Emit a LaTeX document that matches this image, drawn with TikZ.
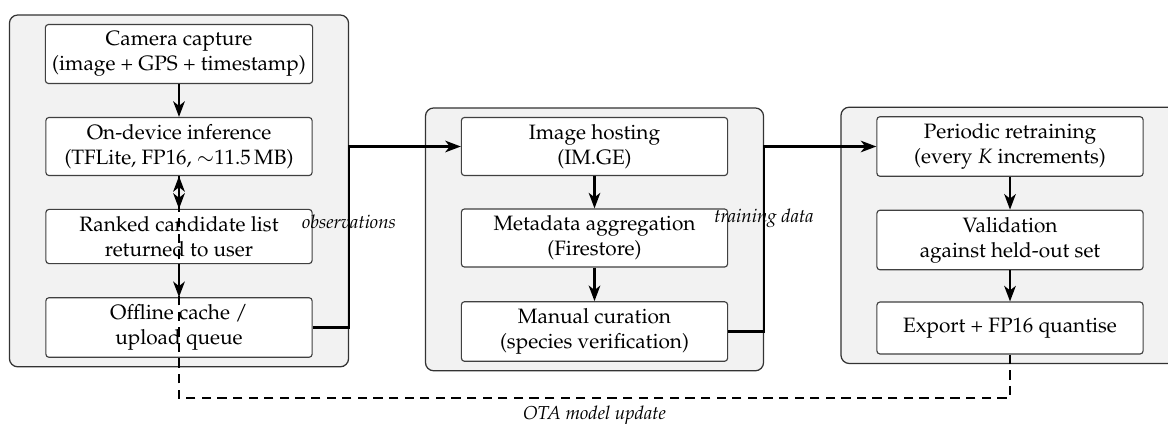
\documentclass[tikz,border=0pt]{standalone}
\usepackage[T1]{fontenc}
\usepackage{mathpazo}
\usetikzlibrary{arrows.meta,fit,backgrounds,positioning}

\tikzset{
  proc/.style={draw=black!75, line width=0.55pt, fill=white, rounded corners=1.5pt,
    minimum width=128pt, minimum height=25pt, align=center, inner sep=3.3pt},
  grp/.style={draw=black!80, line width=0.6pt, fill=black!5, rounded corners=4pt,
    inner xsep=17pt, inner ysep=4.3pt},
  flow/.style={line width=1pt, -{Stealth[length=7.5pt,width=5.6pt,inset=2.2pt]}},
  ota/.style={flow, dash pattern=on 4.5pt off 3pt},
  lbl/.style={font=\small\itshape, inner sep=1pt},
}

\begin{document}
\begin{tikzpicture}[x=0.4808pt, y=-0.4808pt]
  \useasboundingbox (0,0) rectangle (1168,423);

  % on-device pipeline
  \node[proc] (camera)  at (179,54)    {Camera capture\\(image + GPS + timestamp)};
  \node[proc] (infer)   at (179,146.5) {On-device inference\\(TFLite, FP16, $\sim$11.5\,MB)};
  \node[proc] (ranked)  at (179,236.5) {Ranked candidate list\\returned to user};
  \node[proc] (offline) at (179,327.5) {Offline cache /\\upload queue};

  % cloud side
  \node[proc] (hosting)  at (594.5,146.5) {Image hosting\\(IM.GE)};
  \node[proc] (metadata) at (594.5,238)   {Metadata aggregation\\(Firestore)};
  \node[proc] (curation) at (594.5,331.5) {Manual curation\\(species verification)};

  % retraining loop
  \node[proc] (retrain)  at (1010,146.5) {Periodic retraining\\(every $K$ increments)};
  \node[proc] (validate) at (1010,240)   {Validation\\against held-out set};
  \node[proc] (export)   at (1010,328)   {Export + FP16 quantise};

  \begin{scope}[on background layer]
    \node[grp, fit=(camera)(infer)(ranked)(offline)] (devgrp) {};
    \node[grp, fit=(hosting)(metadata)(curation)] (cloudgrp) {};
    \node[grp, fit=(retrain)(validate)(export)] (traingrp) {};
  \end{scope}

  % vertical steps inside each stage
  \draw[flow] (camera) -- (infer);
  \draw[flow] (infer) -- (ranked);
  \draw[flow] (ranked) -- (offline);
  \draw[flow] (hosting) -- (metadata);
  \draw[flow] (metadata) -- (curation);
  \draw[flow] (retrain) -- (validate);
  \draw[flow] (validate) -- (export);

  % hand-over between stages
  \draw[flow] (offline.east) -- (offline.east -| devgrp.east) |- (hosting.west);
  \draw[flow] (curation.east) -- (curation.east -| cloudgrp.east) |- (retrain.west);
  \node[lbl] (obslbl)   at (349,222) {observations};
  \node[lbl] (trainlbl) at (764,218) {training data};

  % model update back to the device
  \coordinate (otaline) at (0,398);
  \draw[ota] (export.south) -- (export.south |- otaline) -| (infer.south);
  \node[lbl] (otalbl) at (594.5,415) {OTA model update};
\end{tikzpicture}
\end{document}
